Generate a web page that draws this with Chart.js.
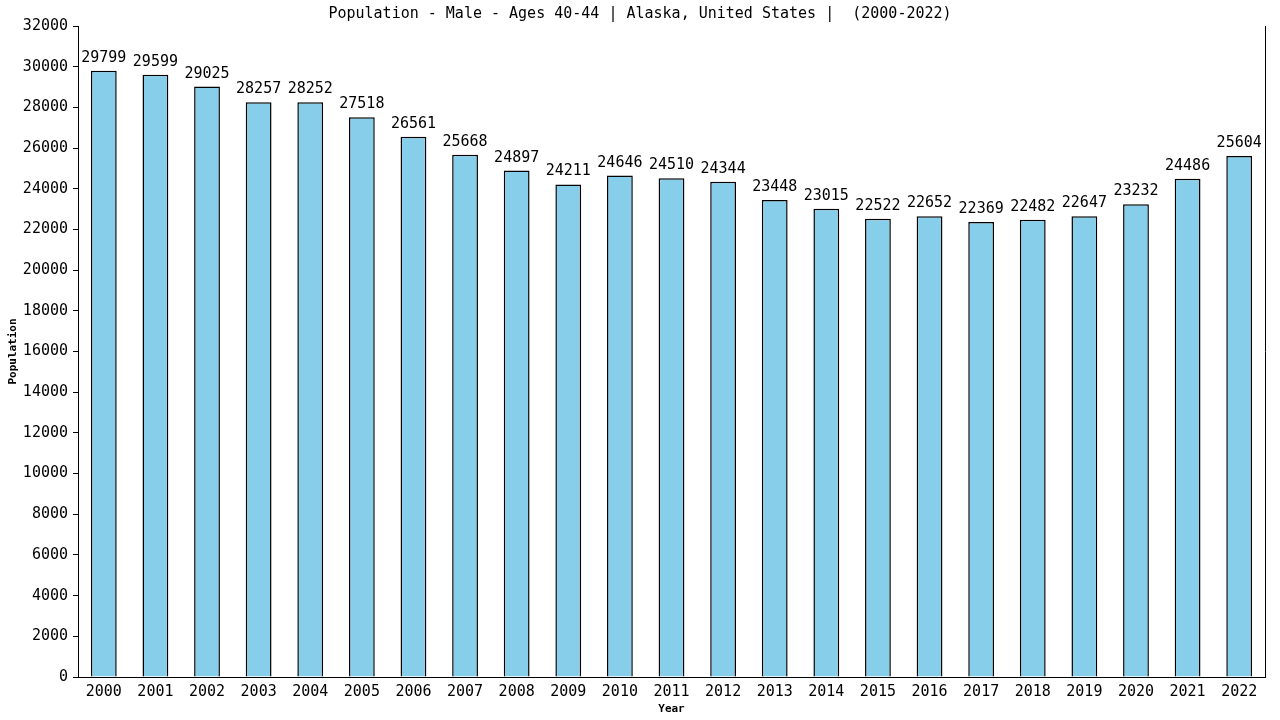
<!DOCTYPE html>
<html>
<head>
<meta charset="utf-8">
<script src="https://cdn.jsdelivr.net/npm/chart.js@4/dist/chart.umd.min.js"></script>
<style>
html,body{margin:0;padding:0;background:#fff;}
#wrap{width:1280px;height:720px;}
</style>
</head>
<body>
<div id="wrap"><canvas id="c" width="1280" height="720"></canvas></div>
<script>
const years = ["2000","2001","2002","2003","2004","2005","2006","2007","2008","2009","2010","2011","2012","2013","2014","2015","2016","2017","2018","2019","2020","2021","2022"];
const population = [29799,29599,29025,28257,28252,27518,26561,25668,24897,24211,24646,24510,24344,23448,23015,22522,22652,22369,22482,22647,23232,24486,25604];
const titleText = "Population - Male - Ages 40-44 | Alaska, United States |  (2000-2022)";
const yTitle = "Population";
const xTitle = "Year";

const MONO = '"DejaVu Sans Mono", "Liberation Mono", monospace';

const extras = {
  id: 'extras',
  afterDatasetsDraw(chart) {
    const ctx = chart.ctx;
    const a = chart.chartArea;
    ctx.save();
    // right border
    ctx.strokeStyle = '#000';
    ctx.lineWidth = 1;
    ctx.beginPath();
    ctx.moveTo(Math.round(a.right) + 0.5, a.top);
    ctx.lineTo(Math.round(a.right) + 0.5, a.bottom);
    ctx.stroke();
    // value labels
    const meta = chart.getDatasetMeta(0);
    ctx.fillStyle = '#000';
    ctx.font = '15px ' + MONO;
    ctx.textAlign = 'center';
    ctx.textBaseline = 'alphabetic';
    meta.data.forEach((bar, i) => {
      ctx.fillText(String(population[i]), bar.x, bar.y - 9);
    });
    // title
    ctx.font = '15px ' + MONO;
    ctx.fillText(titleText, chart.width / 2, 18);
    // axis titles
    ctx.font = 'bold 11px ' + MONO;
    ctx.fillText(xTitle, (a.left + a.right) / 2, 712);
    ctx.translate(16, (a.top + a.bottom) / 2);
    ctx.rotate(-Math.PI / 2);
    ctx.fillText(yTitle, 0, 0);
    ctx.restore();
  }
};

new Chart(document.getElementById('c'), {
  type: 'bar',
  data: {
    labels: years,
    datasets: [{
      data: population,
      backgroundColor: '#87CEEB',
      borderColor: '#000',
      borderWidth: 1.5,
      barPercentage: 0.5,
      categoryPercentage: 1.0
    }]
  },
  options: {
    responsive: false,
    animation: false,
    devicePixelRatio: 1,
    layout: { padding: { top: 26, right: 15, left: 0, bottom: 0 } },
    plugins: { legend: { display: false }, title: { display: false }, tooltip: { enabled: false } },
    scales: {
      x: {
        grid: { display: true, drawOnChartArea: false, drawTicks: false },
        border: { display: true, color: '#000', width: 1 },
        ticks: { color: '#000', font: { family: MONO, size: 15 }, padding: 6, maxRotation: 0, autoSkip: false },
        afterFit(s) { s.height = 43; }
      },
      y: {
        min: 0, max: 32000,
        grid: { display: true, drawOnChartArea: false, drawTicks: true, tickLength: 5, color: '#000' },
        border: { display: true, color: '#000', width: 1 },
        ticks: { stepSize: 2000, color: '#000', font: { family: MONO, size: 15 }, padding: 5,
                 callback: v => String(v) },
        afterFit(s) { s.width = 78; }
      }
    }
  },
  plugins: [extras]
});
</script>
</body>
</html>
